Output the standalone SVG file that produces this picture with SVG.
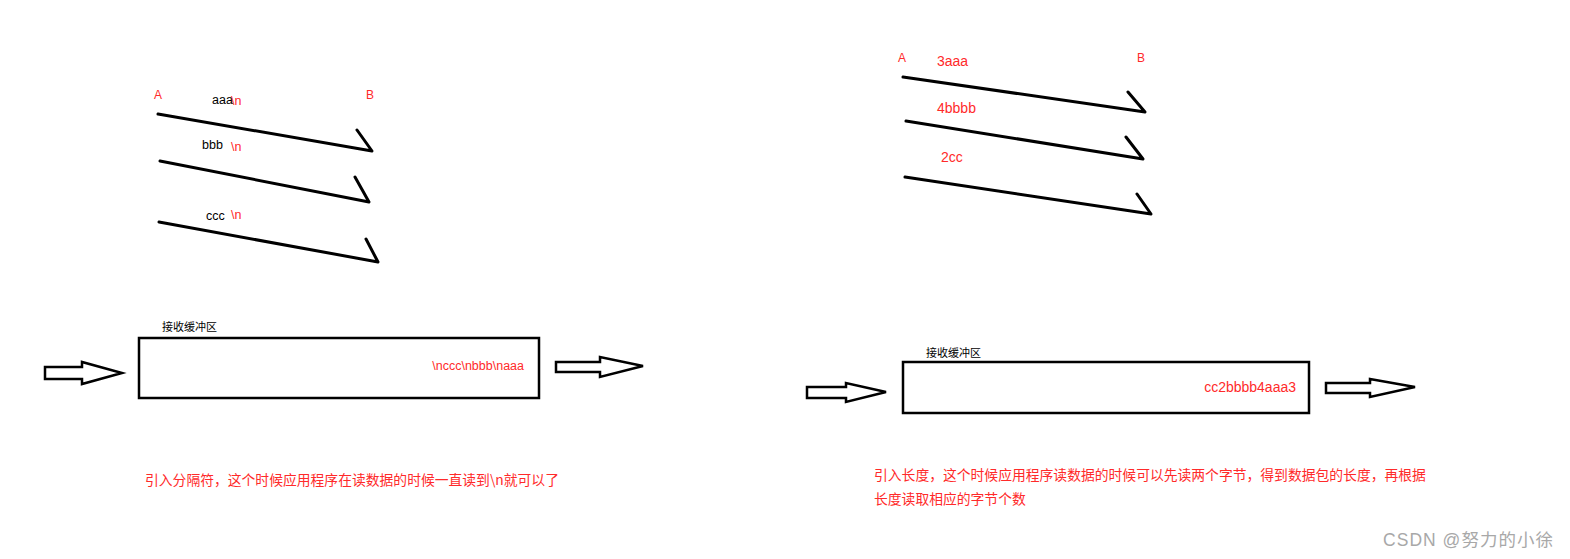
<svg xmlns="http://www.w3.org/2000/svg" width="1570" height="559" viewBox="0 0 1570 559">
<style>
.bg{fill:#fff}
.ln{fill:none;stroke:#000;stroke-width:3;stroke-linecap:round;stroke-linejoin:round}
.blk{fill:#fff;stroke:#000;stroke-width:2.5;stroke-linejoin:miter}
.box{fill:#fff;stroke:#000;stroke-width:2.5}
.r{fill:#ff2a2a;font-family:"Liberation Sans","Noto Sans CJK SC",sans-serif}
.k{fill:#000;font-family:"Liberation Sans","Noto Sans CJK SC",sans-serif}
.cn{font-family:"Noto Sans CJK SC",sans-serif}
</style>
<rect class="bg" x="0" y="0" width="1570" height="559"/>

<g id="left-ab">
<text class="r" x="154" y="99" font-size="12">A</text>
<text class="r" x="366" y="99" font-size="12">B</text>
</g>
<g id="connectors">
<path class="ln" d="M158 114 L372 151 L357 130"/>
<path class="ln" d="M160 161 L369 202 L355 177"/>
<path class="ln" d="M159 222 L378 262 L366 239"/>
<path class="ln" d="M903 77 L1145 112 L1128 92"/>
<path class="ln" d="M906 121 L1143 159 L1126 137"/>
<path class="ln" d="M905 177 L1151 214 L1137 194"/>
</g>
<g id="left-labels">
<text class="k" x="212" y="104" font-size="12.5">aaa</text><text class="r" x="231" y="105" font-size="12.5">\n</text>
<text class="k" x="202" y="149" font-size="12.5">bbb</text><text class="r" x="231" y="151" font-size="12.5">\n</text>
<text class="k" x="206" y="220" font-size="12.5">ccc</text><text class="r" x="231" y="219" font-size="12.5">\n</text>
</g>
<g id="left-buffer">
<text class="k cn" x="162" y="331" font-size="11">接收缓冲区</text>
<rect class="box" x="139" y="338" width="400" height="60"/>
<text class="r" x="524" y="370" font-size="12.5" text-anchor="end">\nccc\nbbb\naaa</text>
</g>
<g id="left-in">
<polygon class="blk" points="45,367 82,367 82,362 122,373 82,384 82,379 45,379"/>
</g>
<g id="left-out">
<polygon class="blk" points="556,362 600,362 600,357 643,366 600,377 600,372 556,372"/>
</g>
<g id="left-note">
<text class="r cn" x="145" y="485" font-size="13.8">引入分隔符，这个时候应用程序在读数据的时候一直读到\n就可以了</text>
</g>

<g id="right-ab">
<text class="r" x="898" y="62" font-size="12">A</text>
<text class="r" x="1137" y="62" font-size="12">B</text>
</g>
<g id="right-labels">
<text class="r" x="937" y="66" font-size="14">3aaa</text>
<text class="r" x="937" y="113" font-size="14">4bbbb</text>
<text class="r" x="941" y="162" font-size="14">2cc</text>
</g>
<g id="right-buffer">
<text class="k cn" x="926" y="357" font-size="11">接收缓冲区</text>
<rect class="box" x="903" y="362" width="406" height="51"/>
<text class="r" x="1296" y="392" font-size="14" text-anchor="end">cc2bbbb4aaa3</text>
</g>
<g id="right-in">
<polygon class="blk" points="807,387 846,387 846,383 886,392 846,402 846,398 807,398"/>
</g>
<g id="right-out">
<polygon class="blk" points="1326,383 1370,383 1370,379 1415,387 1370,397 1370,393 1326,393"/>
</g>
<g id="right-note">
<text class="r cn" x="874" y="480" font-size="13.8">引入长度，这个时候应用程序读数据的时候可以先读两个字节，得到数据包的长度，再根据</text>
<text class="r cn" x="874" y="504" font-size="13.8">长度读取相应的字节个数</text>
</g>
<g id="watermark">
<text x="1383" y="546" font-size="17.5" fill="#a8a8a8" textLength="170" lengthAdjust="spacing" font-family="Liberation Sans,'Noto Sans CJK SC',sans-serif">CSDN @努力的小徐</text>
</g>
</svg>
